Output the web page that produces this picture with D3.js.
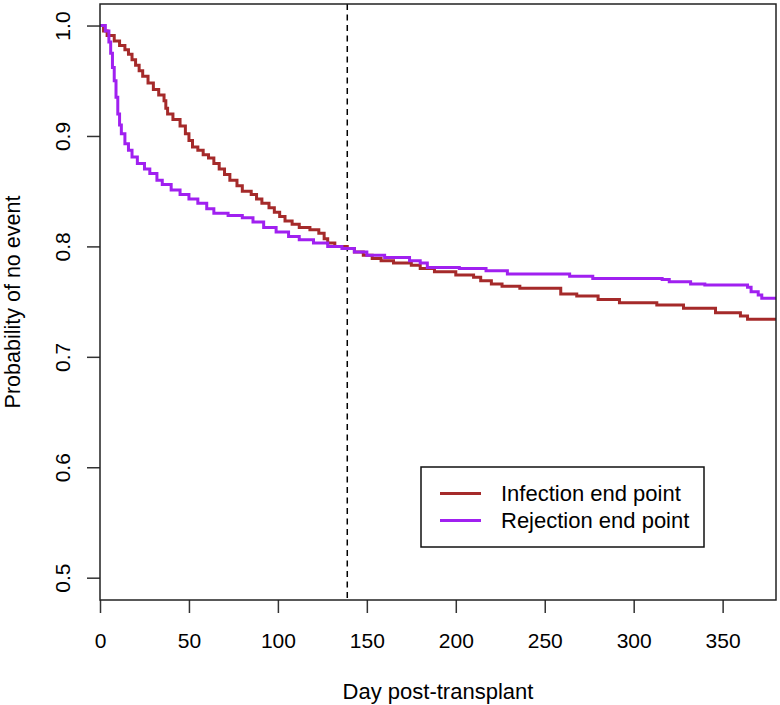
<!DOCTYPE html>
<html>
<head>
<meta charset="utf-8">
<script src="https://cdn.jsdelivr.net/npm/d3@7"></script>
<style>
    body { margin: 0; background: #fff; }
    text { font-family: "Liberation Sans", Arial, Helvetica, sans-serif; }
</style>
</head>
<body>
<div id="chart"></div>
<script>
// Kaplan-Meier style curves: [day, probability of no event]
const infection_steps = [
    [0, 1.0], [2, 0.995], [4, 0.991], [8, 0.986], [11, 0.982], [14, 0.978], [16, 0.974],
    [18, 0.969], [20, 0.964], [22, 0.959], [24, 0.954], [27, 0.948], [30, 0.942], [33, 0.937],
    [36, 0.932], [37, 0.925], [38, 0.920], [41, 0.915], [45, 0.909], [48, 0.902], [50, 0.896],
    [52, 0.890], [55, 0.887], [58, 0.883], [61, 0.880], [64, 0.875], [67, 0.870], [70, 0.865],
    [73, 0.860], [77, 0.855], [80, 0.850], [85, 0.847], [88, 0.843], [91, 0.839], [95, 0.835],
    [98, 0.831], [101, 0.827], [104, 0.823], [108, 0.820], [112, 0.817], [118, 0.815],
    [123, 0.812], [126, 0.807], [128, 0.803], [132, 0.800], [139, 0.798], [143, 0.795],
    [148, 0.792], [153, 0.789], [158, 0.787], [165, 0.785], [175, 0.783], [180, 0.780],
    [188, 0.777], [200, 0.774], [210, 0.772], [214, 0.769], [220, 0.766], [226, 0.764],
    [236, 0.762], [259, 0.757], [268, 0.755], [280, 0.752], [292, 0.749], [313, 0.747],
    [328, 0.744], [346, 0.740], [360, 0.737], [364, 0.734], [380, 0.734]
];

const rejection_steps = [
    [0, 1.0], [3, 0.995], [5, 0.985], [6, 0.975], [7, 0.962], [8, 0.950], [9, 0.935],
    [10, 0.920], [11, 0.910], [12, 0.902], [14, 0.893], [16, 0.887], [18, 0.881], [21, 0.875],
    [25, 0.870], [28, 0.866], [32, 0.860], [35, 0.856], [40, 0.851], [45, 0.847], [50, 0.843],
    [55, 0.839], [60, 0.834], [64, 0.830], [72, 0.828], [80, 0.826], [86, 0.822], [92, 0.817],
    [99, 0.813], [106, 0.809], [112, 0.806], [120, 0.803], [128, 0.800], [136, 0.798],
    [143, 0.795], [150, 0.792], [160, 0.790], [174, 0.787], [180, 0.785], [184, 0.781],
    [202, 0.780], [217, 0.778], [229, 0.775], [264, 0.773], [277, 0.771], [316, 0.770],
    [320, 0.768], [332, 0.766], [340, 0.765], [364, 0.763], [366, 0.759], [370, 0.756],
    [372, 0.753], [380, 0.753]
];

const series_names = ["Infection end point", "Rejection end point"];
const series_colors = ["#a52a2a", "#a020f0"];
const x_ticks = [0, 50, 100, 150, 200, 250, 300, 350];
const y_ticks = [0.5, 0.6, 0.7, 0.8, 0.9, 1.0];
const cutoff_day = 139;

function drawChart() {
    const width = 780;
    const height = 705;
    const plot = { left: 100, right: 776, top: 4, bottom: 600 };

    const svg = d3.select("#chart").append("svg")
        .attr("width", width)
        .attr("height", height);

    const x_scale = d3.scaleLinear().domain([0, 380]).range([plot.left, plot.right]);
    const y_scale = d3.scaleLinear().domain([0.4798, 1.0195]).range([plot.bottom, plot.top]);

    // axes (R style: ticks outside, no domain line, box drawn separately)
    const x_axis_g = svg.append("g")
        .attr("transform", `translate(0,${plot.bottom})`)
        .call(d3.axisBottom(x_scale).tickValues(x_ticks).tickSize(13).tickFormat(d3.format("d")))
        .call(g => g.select(".domain").remove());
    x_axis_g.selectAll("line").attr("stroke", "#333").attr("stroke-width", 1.5);
    x_axis_g.selectAll("text")
        .attr("y", 48)
        .attr("dy", 0)
        .style("font-size", "21px")
        .attr("fill", "#000");

    const y_axis_g = svg.append("g")
        .attr("transform", `translate(${plot.left},0)`)
        .call(d3.axisLeft(y_scale).tickValues(y_ticks).tickSize(13).tickFormat(d3.format(".1f")))
        .call(g => g.select(".domain").remove());
    y_axis_g.selectAll("line").attr("stroke", "#333").attr("stroke-width", 1.5);
    y_axis_g.selectAll("text")
        .attr("transform", "rotate(-90)")
        .attr("x", 0)
        .attr("y", -30)
        .attr("dy", 0)
        .attr("text-anchor", "middle")
        .style("font-size", "21px")
        .attr("fill", "#000");

    // vertical dashed cutoff
    svg.append("line")
        .attr("x1", x_scale(cutoff_day)).attr("x2", x_scale(cutoff_day))
        .attr("y1", plot.top).attr("y2", plot.bottom)
        .attr("stroke", "#000")
        .attr("stroke-width", 1.5)
        .attr("stroke-dasharray", "6,4.5");

    const line = d3.line()
        .x(d => x_scale(d[0]))
        .y(d => y_scale(d[1]))
        .curve(d3.curveStepAfter);

    svg.append("g").selectAll("path")
        .data([infection_steps, rejection_steps])
        .join("path")
        .attr("d", line)
        .attr("fill", "none")
        .attr("stroke", (d, i) => series_colors[i])
        .attr("stroke-width", 3);

    // box
    svg.append("rect")
        .attr("x", plot.left).attr("y", plot.top)
        .attr("width", plot.right - plot.left)
        .attr("height", plot.bottom - plot.top)
        .attr("fill", "none")
        .attr("stroke", "#222")
        .attr("stroke-width", 1.5);

    // axis titles
    svg.append("text")
        .attr("x", (plot.left + plot.right) / 2)
        .attr("y", 699)
        .attr("text-anchor", "middle")
        .style("font-size", "22px")
        .text("Day post-transplant");

    svg.append("text")
        .attr("transform", `translate(19.5,${(plot.top + plot.bottom) / 2}) rotate(-90)`)
        .attr("text-anchor", "middle")
        .style("font-size", "21.5px")
        .text("Probability of no event");

    // legend
    const legend = svg.append("g").attr("transform", "translate(421,467)");
    legend.append("rect")
        .attr("width", 283)
        .attr("height", 80)
        .attr("fill", "#fff")
        .attr("stroke", "#111")
        .attr("stroke-width", 1.5);

    const items = legend.selectAll("g.item")
        .data(series_names)
        .join("g")
        .attr("class", "item")
        .attr("transform", (d, i) => `translate(0,${26.5 + i * 27})`);

    items.append("line")
        .attr("x1", 19).attr("x2", 60)
        .attr("stroke", (d, i) => series_colors[i])
        .attr("stroke-width", 3);

    items.append("text")
        .attr("x", 80)
        .attr("y", 7.5)
        .style("font-size", "22px")
        .text(d => d);
}

drawChart();
</script>
</body>
</html>
